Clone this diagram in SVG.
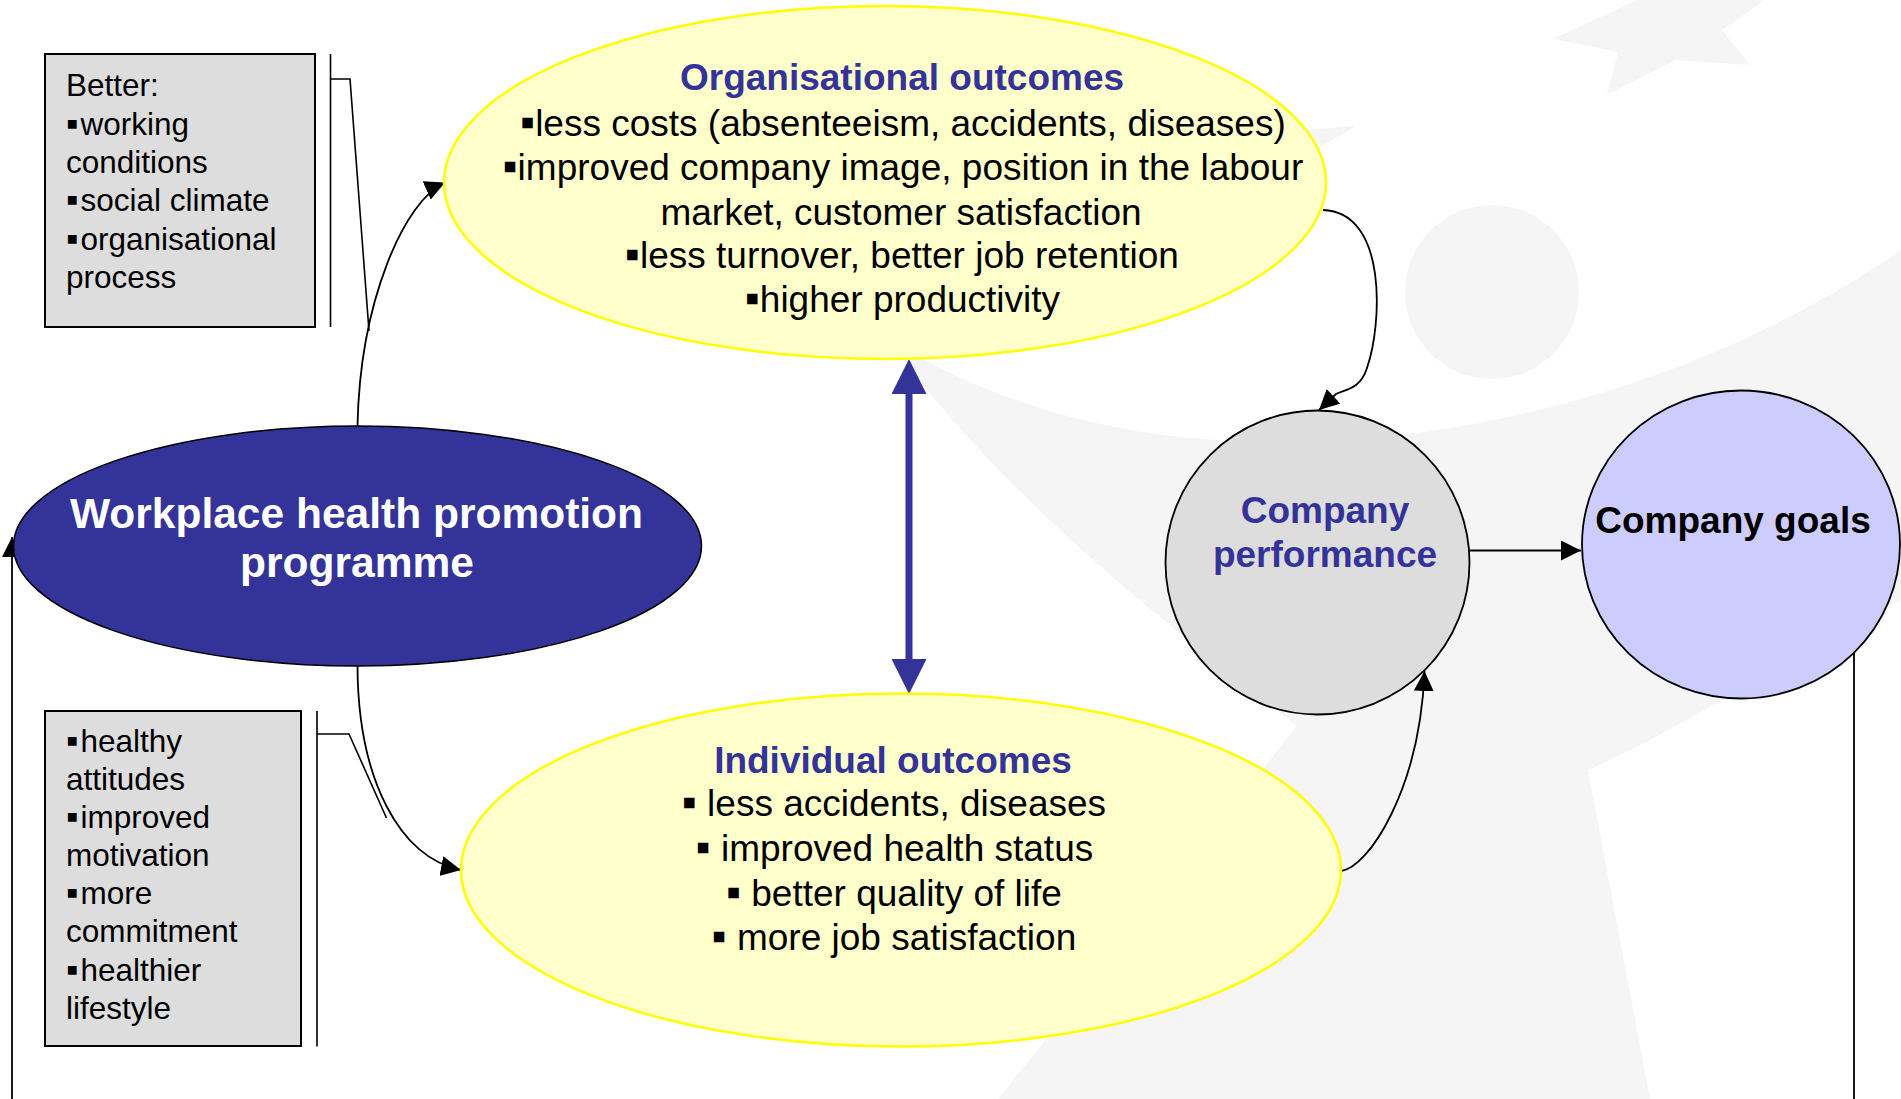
<svg xmlns="http://www.w3.org/2000/svg" width="1901" height="1099" viewBox="0 0 1901 1099">
  <style>
    text { font-family: "Liberation Sans", Arial, sans-serif; }
    .wm { fill: #F5F5F5; stroke: none; }
    .box { fill: #DDDDDD; stroke: #000000; stroke-width: 2; }
    .outcome { fill: #FFFFCC; stroke: #FFFF00; stroke-width: 2.5; }
    .body { font-size: 37px; fill: #000000; }
    .boxtxt { font-size: 31.5px; fill: #000000; }
    .title { font-size: 37px; font-weight: bold; fill: #333399; }
    .b { font-size: 42px; }
    .bb { font-size: 35px; }
    .conn { fill: none; stroke: #000000; stroke-width: 1.8; }
    .thin { fill: none; stroke: #000000; stroke-width: 1.6; }
  </style>
  <defs>
    <marker id="ah" viewBox="0 0 20 20" refX="20" refY="10" markerWidth="20" markerHeight="20" markerUnits="userSpaceOnUse" orient="auto">
      <path d="M0,0 L20,10 L0,20 Z" fill="#000000"/>
    </marker>
    <marker id="ahBlue" viewBox="0 -17.5 35 35" refX="0" refY="0" markerWidth="35" markerHeight="35" markerUnits="userSpaceOnUse" orient="auto-start-reverse">
      <path d="M0,-17.5 L35,0 L0,17.5 Z" fill="#333399"/>
    </marker>
  </defs>

  <rect x="0" y="0" width="1901" height="1099" fill="#FFFFFF"/>

  <g id="watermark">
    <circle class="wm" cx="1492" cy="292" r="87"/>
    <polygon class="wm" points="1553,39 1618,52 1607,95 1676,60 1750,65 1722,30 1772,-5 1700,-5 1690,-40 1640,-5 1637,0"/>
    <polygon class="wm" points="1280,132 1356,126 1280,170"/>
    <path class="wm" d="M890,340 C1050,440 1250,460 1450,428 C1650,395 1800,320 1901,250 L1901,600 C1800,650 1700,720 1588,770 L1650,1099 L998,1099 L1297,726 C1200,650 1000,500 890,340 Z"/>
  </g>

  <g id="connectors">
    <line x1="909" y1="394" x2="909" y2="659" stroke="#333399" stroke-width="7" marker-start="url(#ahBlue)" marker-end="url(#ahBlue)"/>
    <path class="conn" d="M357.5,426 C360,300 405,200 445,182.5" marker-end="url(#ah)"/>
    <path class="conn" d="M357.5,666 C358,780 400,858 461,870" marker-end="url(#ah)"/>
    <path class="conn" d="M1323,210 C1388,212 1382,325 1367,368 C1360,390 1345,389 1336,394 L1319,410" marker-end="url(#ah)"/>
    <path class="conn" d="M1341,871 C1368,868 1420,790 1424.5,671" marker-end="url(#ah)"/>
    <line class="conn" x1="1470" y1="550.5" x2="1581" y2="550.5" marker-end="url(#ah)"/>
    <line class="conn" x1="1854" y1="652.5" x2="1854" y2="1099"/>
    <line class="conn" x1="12" y1="1099" x2="12" y2="537" marker-end="url(#ah)"/>
    <line class="thin" x1="330.5" y1="54" x2="330.5" y2="327"/>
    <polyline class="thin" points="330.5,79 350,79 369,331"/>
    <line class="thin" x1="317" y1="711" x2="317" y2="1046.5"/>
    <polyline class="thin" points="317,734 349,734 386.5,818"/>
  </g>

  <g id="box-organisational">
    <rect class="box" x="45" y="54" width="270" height="273"/>
    <text class="boxtxt" x="66" y="96">Better:</text>
    <text class="boxtxt" x="66" y="134.5"><tspan class="bb">▪</tspan><tspan dx="2">working</tspan></text>
    <text class="boxtxt" x="66" y="173">conditions</text>
    <text class="boxtxt" x="66" y="211"><tspan class="bb">▪</tspan><tspan dx="2">social climate</tspan></text>
    <text class="boxtxt" x="66" y="249.5"><tspan class="bb">▪</tspan><tspan dx="2">organisational</tspan></text>
    <text class="boxtxt" x="66" y="288">process</text>
  </g>

  <g id="box-individual">
    <rect class="box" x="45" y="711" width="256" height="335"/>
    <text class="boxtxt" x="66" y="752"><tspan class="bb">▪</tspan><tspan dx="2">healthy</tspan></text>
    <text class="boxtxt" x="66" y="790">attitudes</text>
    <text class="boxtxt" x="66" y="828"><tspan class="bb">▪</tspan><tspan dx="2">improved</tspan></text>
    <text class="boxtxt" x="66" y="866">motivation</text>
    <text class="boxtxt" x="66" y="904"><tspan class="bb">▪</tspan><tspan dx="2">more</tspan></text>
    <text class="boxtxt" x="66" y="942">commitment</text>
    <text class="boxtxt" x="66" y="981"><tspan class="bb">▪</tspan><tspan dx="2">healthier</tspan></text>
    <text class="boxtxt" x="66" y="1019">lifestyle</text>
  </g>

  <g id="node-organisational-outcomes">
    <ellipse class="outcome" cx="885" cy="182.5" rx="441" ry="176.5"/>
    <text class="title" x="902" y="90" text-anchor="middle">Organisational outcomes</text>
    <text class="body" x="903" y="135.5" text-anchor="middle"><tspan class="b">▪</tspan>less costs (absenteeism, accidents, diseases)</text>
    <text class="body" x="903" y="179.5" text-anchor="middle"><tspan class="b">▪</tspan>improved company image, position in the labour</text>
    <text class="body" x="901" y="224.5" text-anchor="middle">market, customer satisfaction</text>
    <text class="body" x="902" y="268" text-anchor="middle"><tspan class="b">▪</tspan>less turnover, better job retention</text>
    <text class="body" x="902.5" y="312" text-anchor="middle"><tspan class="b">▪</tspan>higher productivity</text>
  </g>

  <g id="node-individual-outcomes">
    <ellipse class="outcome" cx="901" cy="870" rx="440" ry="176.5"/>
    <text class="title" x="893" y="773" text-anchor="middle">Individual outcomes</text>
    <text class="body" x="894" y="816" text-anchor="middle"><tspan class="b">▪</tspan> less accidents, diseases</text>
    <text class="body" x="894.5" y="861" text-anchor="middle"><tspan class="b">▪</tspan> improved health status</text>
    <text class="body" x="894" y="906" text-anchor="middle"><tspan class="b">▪</tspan> better quality of life</text>
    <text class="body" x="894" y="950" text-anchor="middle"><tspan class="b">▪</tspan> more job satisfaction</text>
  </g>

  <g id="node-whp-programme">
    <ellipse cx="357.5" cy="546" rx="344" ry="120" fill="#333399" stroke="#000000" stroke-width="1.5"/>
    <text x="356.5" y="528" text-anchor="middle" font-size="42.5" font-weight="bold" fill="#FFFFFF">Workplace health promotion</text>
    <text x="357" y="577" text-anchor="middle" font-size="42.5" font-weight="bold" fill="#FFFFFF">programme</text>
  </g>

  <g id="node-company-performance">
    <ellipse cx="1317.5" cy="562.5" rx="152" ry="152" fill="#DDDDDD" stroke="#000000" stroke-width="1.8"/>
    <text x="1325" y="523" text-anchor="middle" font-size="37" font-weight="bold" fill="#333399">Company</text>
    <text x="1325" y="567" text-anchor="middle" font-size="37" font-weight="bold" fill="#333399">performance</text>
  </g>

  <g id="node-company-goals">
    <ellipse cx="1741" cy="544.5" rx="159" ry="154" fill="#CCCCFF" stroke="#000000" stroke-width="1.8"/>
    <text x="1733" y="532.5" text-anchor="middle" font-size="37" font-weight="bold" fill="#000000">Company goals</text>
  </g>
</svg>
